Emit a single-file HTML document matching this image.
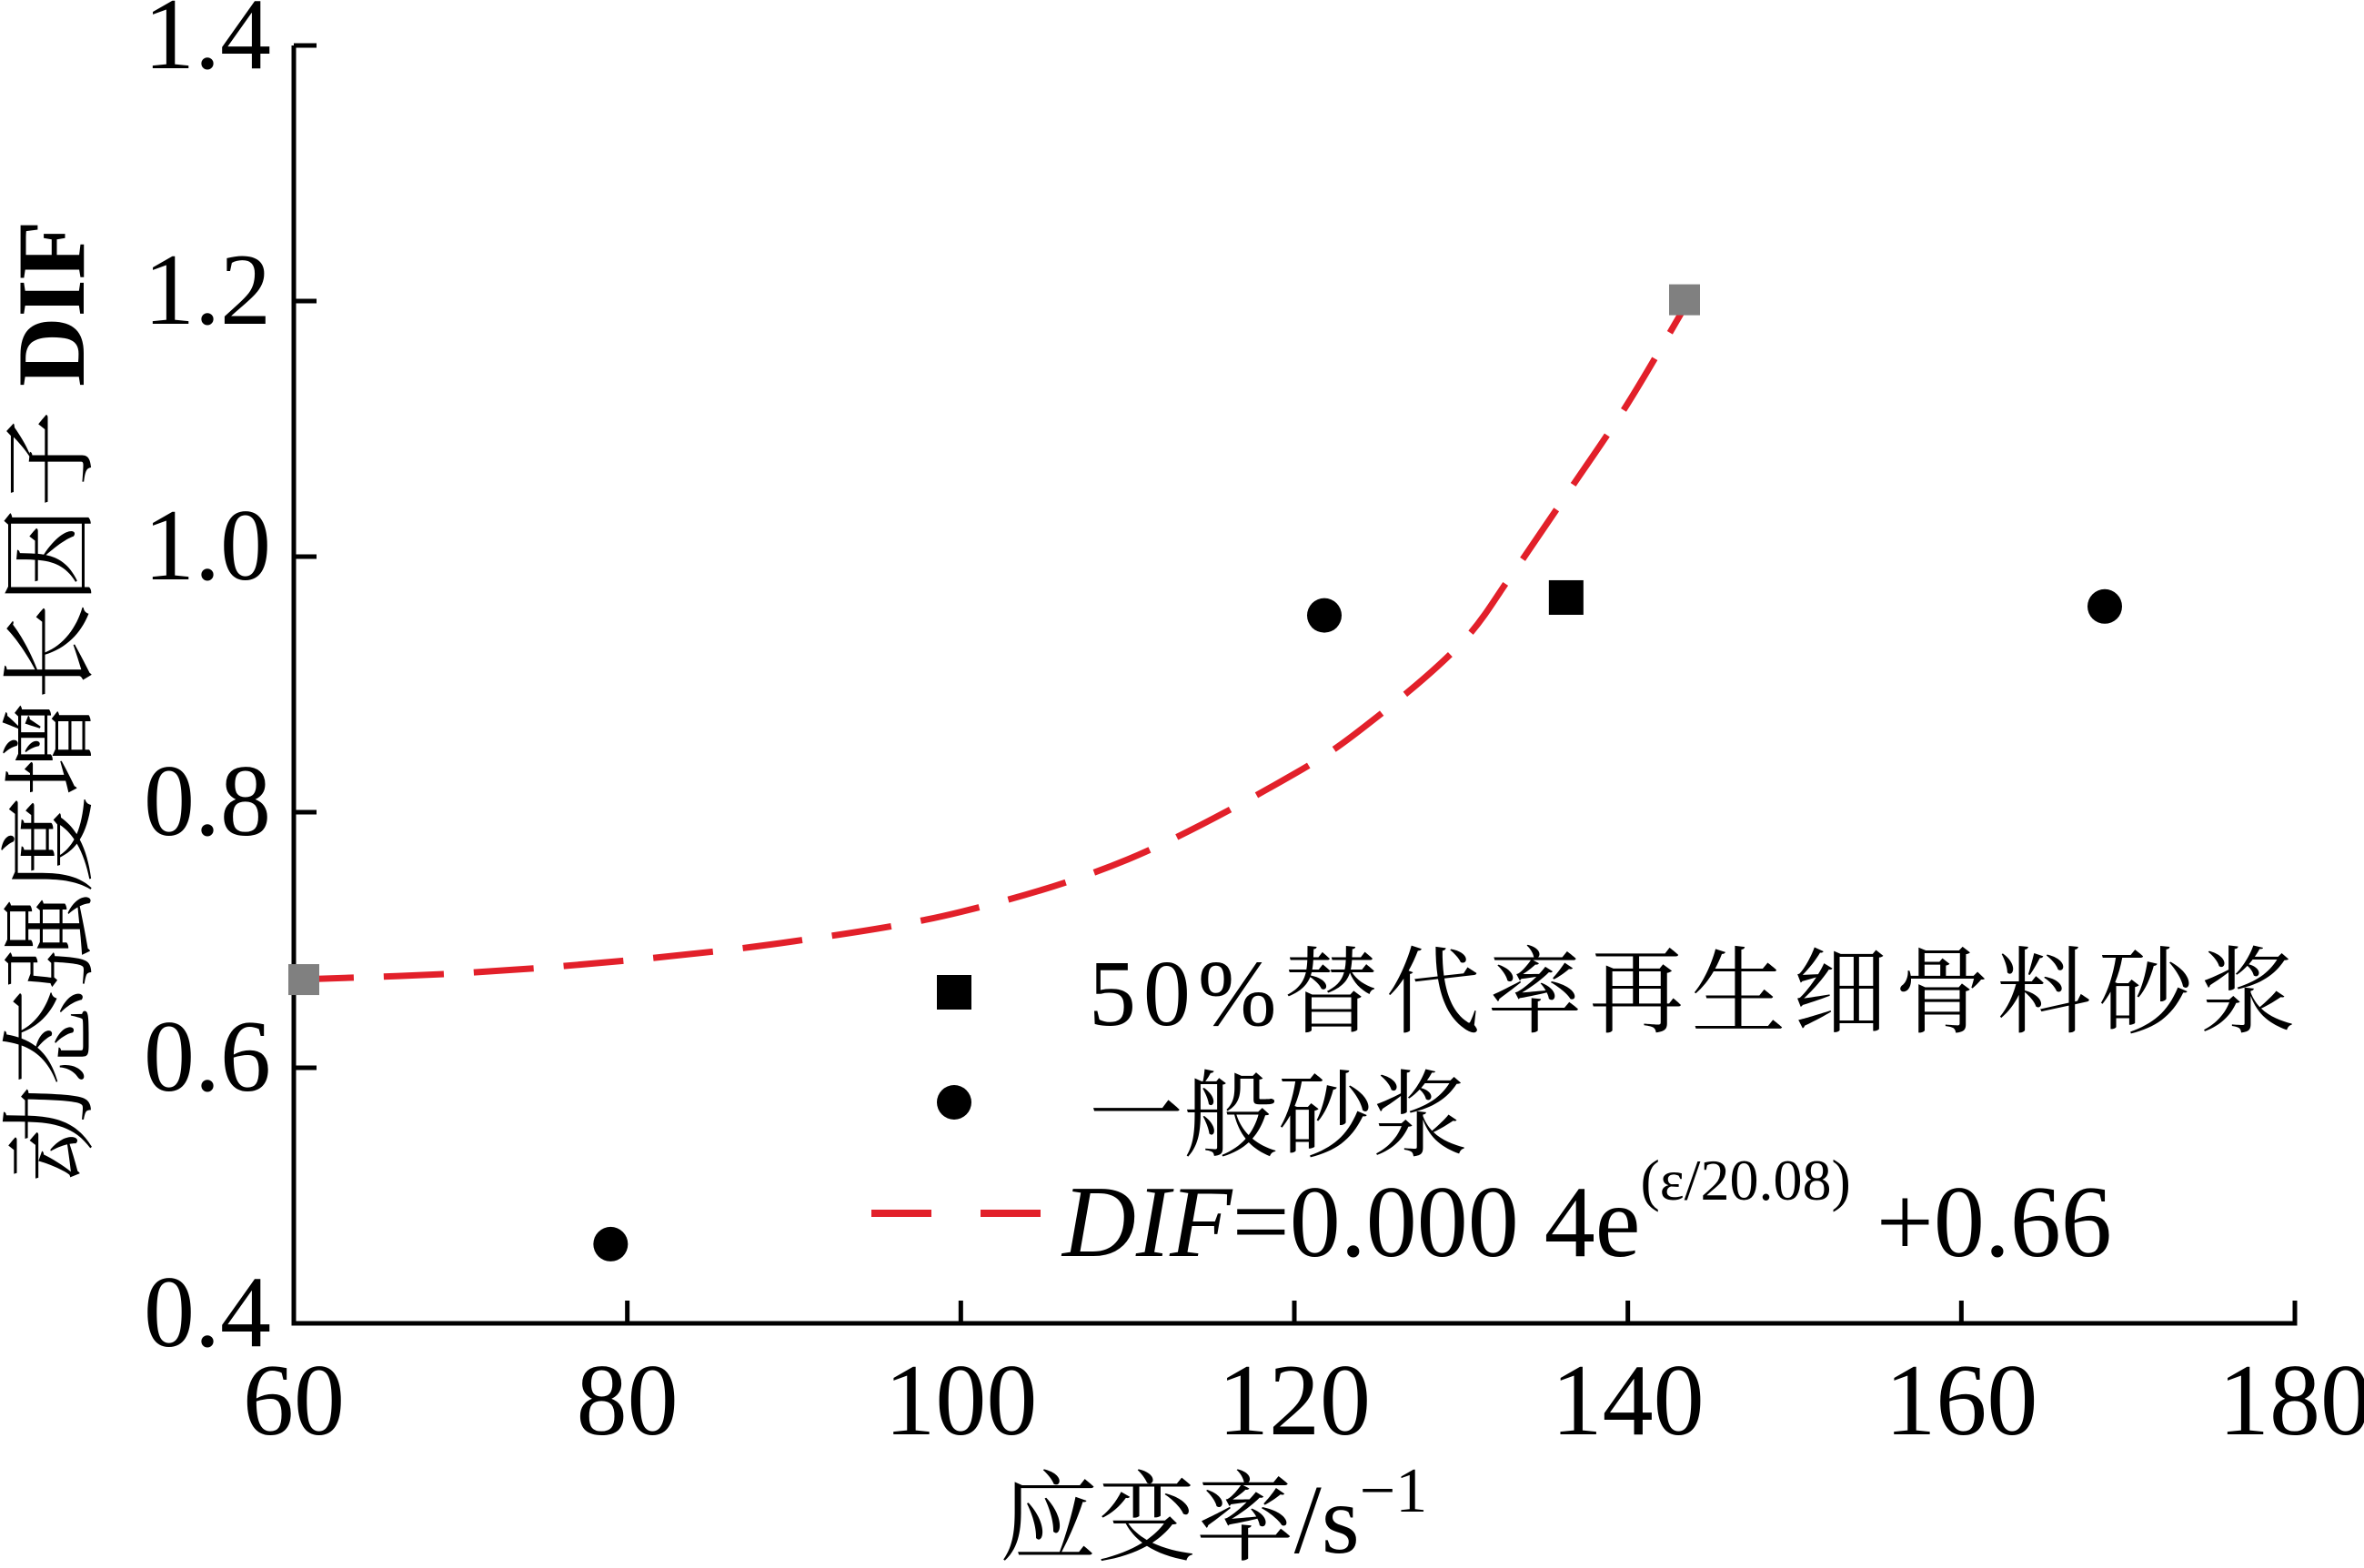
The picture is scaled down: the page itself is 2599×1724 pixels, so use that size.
<!DOCTYPE html>
<html><head><meta charset="utf-8"><style>
html,body{margin:0;padding:0;background:#fff;}
svg{display:block;font-family:"Liberation Serif","Noto Serif CJK SC",serif;}
</style></head><body>
<svg id="chart" width="2599" height="1724" viewBox="0 0 2599 1724" xmlns="http://www.w3.org/2000/svg">
<g id="axes"></g>
<g id="marks"></g>
<text x="1334" y="1707" font-size="108" text-anchor="middle">应变率<tspan style="font-family:'Liberation Serif',serif">/s</tspan><tspan style="font-family:'Liberation Serif',serif" font-size="70" dy="-45">−1</tspan></text>
<text transform="translate(92,771) rotate(-90)" font-size="106" text-anchor="middle">动态强度增长因子 <tspan font-weight="bold">DIF</tspan></text>
<g>
<rect x="1030" y="1072" width="38" height="38" fill="#000"/>
<text x="1197" y="1127" font-size="104" textLength="1326" lengthAdjust="spacing"><tspan style="font-family:'Liberation Serif',serif">50%</tspan>替代率再生细骨料砂浆</text>
<circle cx="1049" cy="1212" r="19" fill="#000"/>
<text x="1197" y="1263" font-size="104">一般砂浆</text>
<line x1="958" y1="1334" x2="1144" y2="1334" stroke="#e2202a" stroke-width="8" stroke-dasharray="66,54"/>
<text x="1168" y="1381" font-size="112" style="font-family:'Liberation Serif',serif"><tspan font-style="italic">DIF</tspan><tspan>=0.000 4e</tspan><tspan font-size="64" dy="-62">(ε/20.08)</tspan><tspan dy="62"> +0.66</tspan></text>
</g>
</svg>
<script>
const xTicks=[60,80,100,120,140,160,180];
const yTicks=[0.4,0.6,0.8,1.0,1.2,1.4];
const yTickLabels=["0.4","0.6","0.8","1.0","1.2","1.4"];
const ordinaryX=[79.0,121.8,168.6];
const ordinaryY=[0.462,0.954,0.961];
const recycledX=[136.3];
const recycledY=[0.968];
const refX=[60.6,143.4];
const refY=[0.669,1.201];
const fitX=[60,70,80,90,100,110,120,125,130,133,136.4,140,143.4];
const fitY=[0.669,0.674,0.684,0.699,0.722,0.763,0.83,0.875,0.932,0.985,1.05,1.12,1.195];
const NS="http://www.w3.org/2000/svg";
function X(v){return 323+(v-60)*(2200/120);}
function Y(v){return 50+(1.4-v)*1405;}
function mk(tag,attrs,parent){const e=document.createElementNS(NS,tag);for(const k in attrs)e.setAttribute(k,attrs[k]);parent.appendChild(e);return e;}
const axes=document.getElementById('axes'), marks=document.getElementById('marks');
let e;
e=mk('line',{x1:X(60),y1:Y(1.4),x2:X(60),y2:Y(0.4)+2.5,stroke:'#000','stroke-width':5},axes);


e=mk('line',{x1:X(60)-2.5,y1:Y(0.4),x2:X(180)+2.5,y2:Y(0.4),stroke:'#000','stroke-width':5},axes);


xTicks.forEach((t,i)=>{
  e=mk('line',{x1:X(t),y1:Y(0.4),x2:X(t),y2:Y(0.4)-25,stroke:'#000','stroke-width':5},axes);
  
  
  e=mk('text',{x:X(t),y:1577,'font-size':112,'text-anchor':'middle'},axes);
  e.textContent=String(t);
  
  
});
yTicks.forEach((t,i)=>{
  e=mk('line',{x1:X(60),y1:Y(t),x2:X(60)+25,y2:Y(t),stroke:'#000','stroke-width':5},axes);
  
  
  e=mk('text',{x:298,y:Y(t)+25,'font-size':112,'text-anchor':'end'},axes);
  e.textContent=yTickLabels[i];
  
  
});
const P=fitX.map((v,i)=>[X(v),Y(fitY[i])]);
let d='M'+P[0][0].toFixed(1)+','+P[0][1].toFixed(1);
for(let i=0;i<P.length-1;i++){
  const p0=P[Math.max(0,i-1)],p1=P[i],p2=P[i+1],p3=P[Math.min(P.length-1,i+2)];
  const c1=[p1[0]+(p2[0]-p0[0])/6,p1[1]+(p2[1]-p0[1])/6];
  const c2=[p2[0]-(p3[0]-p1[0])/6,p2[1]-(p3[1]-p1[1])/6];
  d+='C'+c1[0].toFixed(1)+','+c1[1].toFixed(1)+' '+c2[0].toFixed(1)+','+c2[1].toFixed(1)+' '+p2[0].toFixed(1)+','+p2[1].toFixed(1);
}
e=mk('path',{d:d,fill:'none',stroke:'#e2202a','stroke-width':7,'stroke-dasharray':'66,33'},marks);


refX.forEach((v,i)=>{
  e=mk('rect',{x:X(v)-17,y:Y(refY[i])-17,width:34,height:34,fill:'#808080'},marks);
  
  
});
ordinaryX.forEach((v,i)=>{
  e=mk('circle',{cx:X(v),cy:Y(ordinaryY[i]),r:19,fill:'#000'},marks);
  
  
});
recycledX.forEach((v,i)=>{
  e=mk('rect',{x:X(v)-19,y:Y(recycledY[i])-19,width:38,height:38,fill:'#000'},marks);
  
  
});
</script>
</body></html>
